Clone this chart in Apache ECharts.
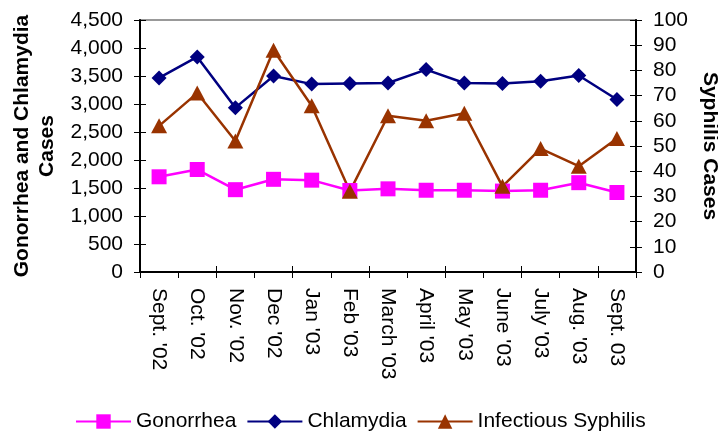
<!DOCTYPE html>
<html>
<head>
<meta charset="utf-8">
<script src="https://cdn.jsdelivr.net/npm/echarts@6/dist/echarts.min.js"></script>
<style>html,body{margin:0;padding:0;background:#fff;}#c{width:718px;height:433px;}</style>
</head>
<body>
<div id="c"></div>
<script>
var categories = ["Sept. '02","Oct. '02","Nov. '02","Dec '02","Jan '03","Feb '03","March '03","April '03","May '03","June '03","July '03","Aug. '03","Sept. 03"];
var gonorrhea = [1700,1830,1470,1655,1640,1455,1485,1460,1460,1445,1460,1595,1420];
var chlamydia = [3465,3840,2935,3500,3355,3365,3375,3615,3375,3365,3405,3510,3080];
var syphilis = [58,71,52,88,66,32,62,60,63,34,49,42,53];
var leftTicks = {min:0, max:4500, interval:500};
var rightTicks = {min:0, max:100, interval:10};

var font = 'Liberation Sans, Arial, sans-serif';
var FS = 21;
var chart = echarts.init(document.getElementById('c'));
chart.setOption({
  animation:false,
  backgroundColor:'#fff',
  textStyle:{fontFamily:font},
  grid:{left:140, right:82, top:20, bottom:161, show:true, borderColor:'#999', borderWidth:2, outerBoundsMode:'none', containLabel:false},
  legend:{
    left:70, top:406, itemWidth:55, itemHeight:18, itemGap:10, padding:[5,5,5,5],
    textStyle:{fontSize:FS, color:'#000', fontFamily:font},
    data:['Gonorrhea','Chlamydia','Infectious Syphilis']
  },
  xAxis:[{
    type:'category', data:categories, boundaryGap:true,
    axisLine:{lineStyle:{color:'#000', width:2}},
    axisTick:{show:true, length:6, lineStyle:{color:'#000'}},
    axisLabel:{rotate:-90, fontSize:FS, color:'#000', margin:16, interval:0, fontFamily:font},
    splitLine:{show:false}
  },{
    type:'category', data:categories, boundaryGap:true, position:'bottom',
    axisLine:{show:false},
    axisTick:{show:true, inside:true, length:6, lineStyle:{color:'#000'}},
    axisLabel:{show:false}, splitLine:{show:false}
  }],
  yAxis:[{
    type:'value', min:leftTicks.min, max:leftTicks.max, interval:leftTicks.interval,
    name:'Gonorrhea and Chlamydia\nCases', nameLocation:'middle', nameGap:80, nameRotate:90,
    nameTextStyle:{fontSize:FS, fontWeight:'bold', color:'#000', fontFamily:font, lineHeight:25},
    axisLine:{show:true, lineStyle:{color:'#000', width:2}},
    axisTick:{show:true, length:6, lineStyle:{color:'#000'}},
    axisLabel:{fontSize:FS, color:'#000', margin:17, fontFamily:font,
      formatter:function(v){return v.toLocaleString('en-US');}},
    splitLine:{show:false}
  },{
    type:'value', min:rightTicks.min, max:rightTicks.max, interval:rightTicks.interval, position:'right',
    name:'Syphilis Cases', nameLocation:'middle', nameGap:59, nameRotate:-90,
    nameTextStyle:{fontSize:FS, fontWeight:'bold', color:'#000', fontFamily:font},
    axisLine:{show:true, lineStyle:{color:'#000', width:2}},
    axisTick:{show:true, length:6, lineStyle:{color:'#000'}},
    axisLabel:{fontSize:FS, color:'#000', margin:17, fontFamily:font},
    splitLine:{show:false}
  },{
    type:'value', min:leftTicks.min, max:leftTicks.max, interval:leftTicks.interval, position:'left',
    axisLine:{show:false}, axisTick:{show:true, inside:true, length:6, lineStyle:{color:'#000'}},
    axisLabel:{show:false}, splitLine:{show:false}
  },{
    type:'value', min:rightTicks.min, max:rightTicks.max, interval:rightTicks.interval, position:'right',
    axisLine:{show:false}, axisTick:{show:true, inside:true, length:6, lineStyle:{color:'#000'}},
    axisLabel:{show:false}, splitLine:{show:false}
  }],
  series:[{
    name:'Gonorrhea', type:'line', yAxisIndex:0, data:gonorrhea,
    symbol:'rect', symbolSize:15,
    lineStyle:{color:'#FF00FF', width:2.5}, itemStyle:{color:'#FF00FF'}
  },{
    name:'Chlamydia', type:'line', yAxisIndex:0, data:chlamydia,
    symbol:'diamond', symbolSize:[15,15],
    lineStyle:{color:'#000080', width:2.5}, itemStyle:{color:'#000080'}
  },{
    name:'Infectious Syphilis', type:'line', yAxisIndex:1, data:syphilis,
    symbol:'triangle', symbolSize:[16,15],
    lineStyle:{color:'#993300', width:2.5}, itemStyle:{color:'#993300'}
  }]
});
</script>
</body>
</html>
